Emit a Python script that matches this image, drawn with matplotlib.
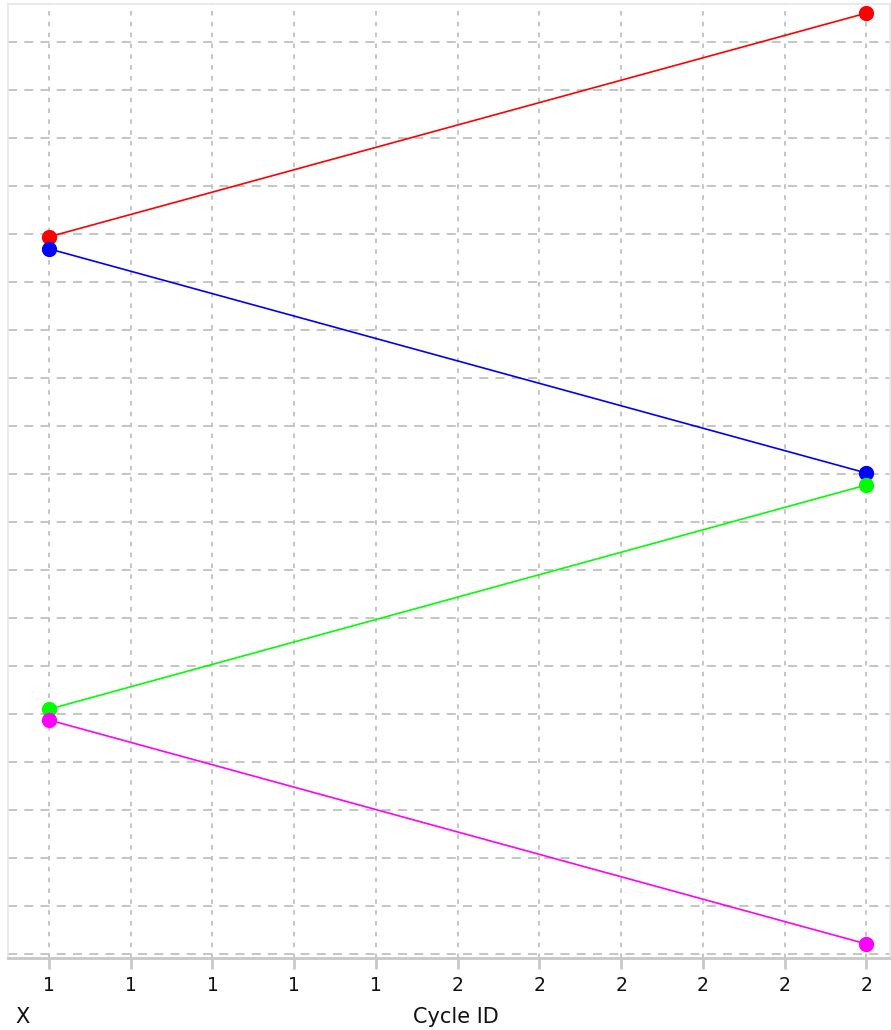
import matplotlib
matplotlib.use("Agg")
import matplotlib.pyplot as plt
from matplotlib.ticker import FixedLocator

plt.rcParams['font.family'] = ['DejaVu Sans']

cycle_ids = [1, 2]
series_colors = ['#ff0000', '#0000ff', '#00ff00', '#ff00ff']
series_values = [
    [14.94, 19.60],
    [14.69, 10.02],
    [5.10, 9.77],
    [4.875, 0.21],
]
x_ticks = [1.0, 1.1, 1.2, 1.3, 1.4, 1.5, 1.6, 1.7, 1.8, 1.9, 2.0]
x_tick_labels = ['1', '1', '1', '1', '1', '2', '2', '2', '2', '2', '2']
y_grid = list(range(0, 20))

W, H = 891, 1030
fig = plt.figure(figsize=(W / 100, H / 100), dpi=100)
ax = fig.add_axes([8 / W, 1 - 958 / H, (890 - 8) / W, (958 - 4) / H])

for vals, col in zip(series_values, series_colors):
    ax.plot(cycle_ids, vals, color=col, lw=1.2, marker='o', ms=10,
            markeredgecolor=col, zorder=3)

ax.set_xlim(0.9498, 2.029)
ax.set_ylim(-0.083, 19.79)

ax.xaxis.set_major_locator(FixedLocator(x_ticks))
ax.set_xticklabels(x_tick_labels)
ax.yaxis.set_major_locator(FixedLocator(y_grid))
ax.set_yticklabels([])

ax.grid(axis='x', color='#c0c0c0', linestyle=(0, (2.5, 3.5)), lw=1.3)
ax.grid(axis='y', color='#c0c0c0', linestyle=(0, (5, 4)), lw=1.3)
ax.set_axisbelow(True)

for s in ['top', 'left', 'right']:
    ax.spines[s].set_color('#e6e6e6')
    ax.spines[s].set_linewidth(1.2)
ax.spines['bottom'].set_color('#c8c8c8')
ax.spines['bottom'].set_linewidth(2)

ax.tick_params(axis='x', direction='out', length=8, width=2, color='#c8c8c8',
               labelsize=13.5, pad=5, labelcolor='#111111')
ax.tick_params(axis='y', length=0)

fig.text(456 / W, 1 - 1017 / H, 'Cycle ID', ha='center', va='center',
         fontsize=15, color='#111111')
fig.text(23 / W, 1 - 1017 / H, 'X', ha='center', va='center',
         fontsize=15, color='#111111')

fig.savefig('out.png', dpi=100, facecolor='white')
